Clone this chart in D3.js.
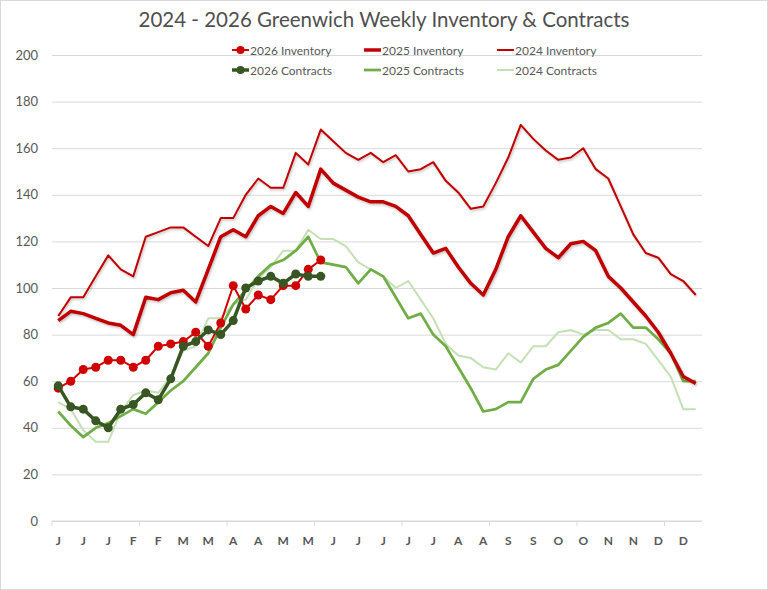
<!DOCTYPE html>
<html>
<head>
<meta charset="utf-8">
<script src="https://cdn.jsdelivr.net/npm/d3@7"></script>
<style>
  body { margin: 0; background: #fff; }
  svg { display: block; font-family: Lato, "Open Sans", sans-serif; }
</style>
</head>
<body>
<div id="chart"></div>
<script>
// weekly values, week 1..52
const inv2026 = [57,60,65,66,69,69,66,69,75,76,77,81,75,85,101,91,97,95,101,101,108,112];
const con2026 = [58,49,48,43,40,48,50,55,52,61,75,77,82,80,86,100,103,105,102,106,105,105];
const inv2025 = [86,90,89,87,85,84,80,96,95,98,99,94,108,122,125,122,131,135,132,141,135,151,145,142,139,137,137,135,131,123,115,117,109,102,97,108,122,131,124,117,113,119,120,116,105,100,94,88,81,72,62,59];
const con2025 = [47,41,36,40,42,45,48,46,51,56,60,66,72,83,93,99,105,110,112,116,122,111,110,109,102,108,105,96,87,89,80,75,66,57,47,48,51,51,61,65,67,73,79,83,85,89,83,83,78,72,60,60];
const inv2024 = [88,96,96,105,114,108,105,122,124,126,126,122,118,130,130,140,147,143,143,158,153,168,163,158,155,158,154,157,150,151,154,146,141,134,135,145,156,170,164,159,155,156,160,151,147,135,123,115,113,106,103,97];
const con2024 = [51,48,39,34,34,47,54,56,55,62,73,75,87,87,93,95,104,109,116,116,125,121,121,118,111,108,105,100,103,95,87,76,71,70,66,65,72,68,75,75,81,82,80,82,82,78,78,76,69,62,48,48];

const xLabels = ["J","J","J","F","F","M","M","A","A","M","M","J","J","J","J","J","A","A","S","S","O","O","N","N","D","D"];
const yTicks = [0,20,40,60,80,100,120,140,160,180,200];
const weeks = d3.range(52);

const width = 768, height = 590;
const margin = { top: 55, right: 66, bottom: 69, left: 52 };
const innerWidth = width - margin.left - margin.right;
const innerHeight = height - margin.top - margin.bottom;

const TXT = "#595959";
const GRID = "#d9d9d9";

// series in drawing order (bottom -> top)
const series = [
  { name: "2024 Contracts", data: con2024, color: "#c5e0b4", w: 2 },
  { name: "2025 Contracts", data: con2025, color: "#70ad47", w: 2.75 },
  { name: "2024 Inventory", data: inv2024, color: "#c00000", w: 2, shadow: true },
  { name: "2025 Inventory", data: inv2025, color: "#c00000", w: 3.5, shadow: true },
  { name: "2026 Inventory", data: inv2026, color: "#d00000", w: 2, dots: true },
  { name: "2026 Contracts", data: con2026, color: "#375623", w: 3.5, dots: true }
];
const byName = Object.fromEntries(series.map(s => [s.name, s]));

const svg = d3.select("#chart").append("svg")
  .attr("width", width)
  .attr("height", height);

const defs = svg.append("defs");
defs.append("filter").attr("id", "shadow")
  .attr("x", "-5%").attr("y", "-5%").attr("width", "110%").attr("height", "120%")
  .append("feDropShadow")
  .attr("dx", 1).attr("dy", 1.5).attr("stdDeviation", 1)
  .attr("flood-color", "#000").attr("flood-opacity", 0.25);

svg.append("rect")
  .attr("x", 0.5).attr("y", 0.5)
  .attr("width", width - 1).attr("height", height - 1)
  .attr("fill", "#fff").attr("stroke", GRID);

// ===== Title =====
svg.append("text")
  .attr("x", width / 2)
  .attr("y", 27)
  .attr("text-anchor", "middle")
  .attr("fill", "#505050")
  .attr("font-size", 20.5)
  .text("2024 - 2026 Greenwich Weekly Inventory & Contracts");

const g = svg.append("g").attr("transform", `translate(${margin.left},${margin.top})`);

const x = d3.scaleBand().domain(weeks).range([0, innerWidth]).padding(0);
const y = d3.scaleLinear().domain([0, 200]).range([innerHeight, 0]);
const cx = i => x(i) + x.bandwidth() / 2;

// ===== Grid + axes =====
g.append("g")
  .call(d3.axisLeft(y).tickValues(yTicks).tickSize(-innerWidth).tickFormat(""))
  .call(gg => gg.select(".domain").remove())
  .call(gg => gg.selectAll("text").remove())
  .call(gg => gg.selectAll("line").attr("stroke", GRID));

// y labels
g.append("g").selectAll("text")
  .data(yTicks)
  .join("text")
  .attr("x", -14)
  .attr("y", d => y(d) + 4.5)
  .attr("text-anchor", "end")
  .attr("fill", TXT)
  .attr("font-size", 13)
  .text(d => d);

// x axis line + tick marks every 7 weeks
const xAxisG = g.append("g").attr("transform", `translate(0,${innerHeight})`);
xAxisG.append("line")
  .attr("x1", 0).attr("x2", innerWidth)
  .attr("stroke", GRID);
xAxisG.selectAll(".wk-tick")
  .data(weeks.filter(i => i % 7 === 0))
  .join("line")
  .attr("class", "wk-tick")
  .attr("x1", d => x(d)).attr("x2", d => x(d))
  .attr("y1", 0).attr("y2", 5)
  .attr("stroke", GRID);

// month letters every 2 weeks
xAxisG.selectAll(".x-lab")
  .data(xLabels)
  .join("text")
  .attr("class", "x-lab")
  .attr("x", (d, k) => cx(k * 2))
  .attr("y", 24)
  .attr("text-anchor", "middle")
  .attr("fill", TXT)
  .attr("font-size", 12)
  .attr("font-weight", "bold")
  .text(d => d);

// ===== Lines =====
const line = d3.line()
  .x((d, i) => cx(i))
  .y(d => y(d));

series.forEach(s => {
  const grp = g.append("g");
  grp.append("path")
    .datum(s.data)
    .attr("fill", "none")
    .attr("stroke", s.color)
    .attr("stroke-width", s.w)
    .attr("stroke-linejoin", "round")
    .attr("filter", s.shadow ? "url(#shadow)" : null)
    .attr("d", line);
  if (s.dots) {
    grp.selectAll("circle")
      .data(s.data)
      .join("circle")
      .attr("cx", (d, i) => cx(i))
      .attr("cy", d => y(d))
      .attr("r", 4.5)
      .attr("fill", s.color);
  }
});

// ===== Legend =====
const legendRows = [
  ["2026 Inventory", "2025 Inventory", "2024 Inventory"],
  ["2026 Contracts", "2025 Contracts", "2024 Contracts"]
];
const legendX = [232, 364, 497];
const legendY = [50, 70];

legendRows.forEach((row, r) => {
  row.forEach((name, c) => {
    const s = byName[name];
    const lg = svg.append("g").attr("transform", `translate(${legendX[c]},${legendY[r]})`);
    lg.append("line")
      .attr("x1", 0).attr("x2", 17).attr("y1", 0).attr("y2", 0)
      .attr("stroke", s.color)
      .attr("stroke-width", s.w);
    if (s.dots) lg.append("circle").attr("cx", 8.5).attr("cy", 0).attr("r", 4).attr("fill", s.color);
    lg.append("text")
      .attr("x", 18).attr("y", 4.5)
      .attr("fill", TXT)
      .attr("font-size", 12)
      .text(name);
  });
});
</script>
</body>
</html>
